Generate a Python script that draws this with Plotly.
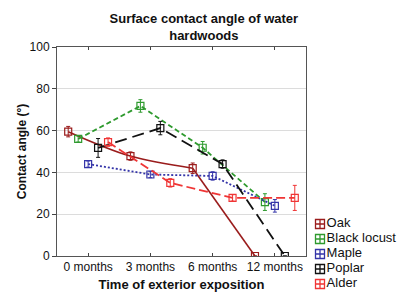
import plotly.graph_objects as go

categories = ["0 months", "3 months", "6 months", "12 months"]
species = ["Oak", "Black locust", "Maple", "Poplar", "Alder"]

oak = [59.5, 47.8, 42.0, 0.0]
black_locust = [56.0, 71.8, 51.8, 25.8]
maple = [44.0, 39.0, 38.3, 24.0]
poplar = [51.7, 61.2, 44.0, 0.0]
alder = [54.5, 35.0, 27.8, 27.8]

oak_err = [2.5, 2.0, 2.5, 0.0]
black_locust_err = [1.5, 3.0, 3.0, 4.0]
maple_err = [1.5, 1.5, 2.0, 3.0]
poplar_err = [4.5, 3.2, 2.0, 0.0]
alder_err = [2.0, 2.0, 1.5, 6.0]

values = [oak, black_locust, maple, poplar, alder]
errors = [oak_err, black_locust_err, maple_err, poplar_err, alder_err]

colors = ["#9a1c1c", "#2e9a2e", "#3434a8", "#111111", "#f03535"]
dashes = ["solid", "5px,3px", "2px,2px", "12px,6px", "9px,4px"]
offsets = [-0.32, -0.16, 0.0, 0.16, 0.32]

W, H = 399, 293
PL, PR, PT, PB = 57, 306, 47, 256  # plot area in pixels

fig = go.Figure()

for k, name in enumerate(species):
    xs = [i + offsets[k] for i in range(len(categories))]
    ys = values[k]
    es = errors[k]
    col = colors[k]
    if name == "Oak":
        fig.add_trace(go.Scatter(
            x=xs[:3], y=ys[:3], mode="lines",
            line=dict(color=col, width=1.6, shape="spline", smoothing=1.0),
            showlegend=False, hoverinfo="skip"))
        fig.add_trace(go.Scatter(
            x=xs[2:], y=ys[2:], mode="lines",
            line=dict(color=col, width=1.6),
            showlegend=False, hoverinfo="skip"))
    else:
        fig.add_trace(go.Scatter(
            x=xs, y=ys, mode="lines",
            line=dict(color=col, width=1.8, dash=dashes[k]),
            showlegend=False))
    fig.add_trace(go.Scatter(
        x=xs, y=ys, mode="markers",
        marker=dict(symbol="square-open", size=7, color=col, line=dict(width=1.2, color=col)),
        error_y=dict(type="data", array=es, visible=True, color=col, thickness=1, width=2),
        showlegend=False))

# custom legend drawn on its own small axes
leg_x0 = 0.77
leg_top_px = 211
item_px = 15
first_px = 224
icon_px = 320
fig.add_trace(go.Scatter(
    x=[0] * len(species), y=list(range(len(species))),
    mode="markers+text", text=species, textposition="middle right",
    textfont=dict(size=13, color="#111111"),
    marker=dict(symbol="square-cross-open", size=9, color=colors,
                line=dict(width=1.3, color=colors)),
    xaxis="x3", yaxis="y3", showlegend=False, hoverinfo="skip", cliponaxis=False))

fig.update_layout(
    width=W, height=H,
    margin=dict(l=0, r=0, t=0, b=0),
    paper_bgcolor="white", plot_bgcolor="white",
    font=dict(family="Liberation Sans, Arial, sans-serif", color="#111111", size=12),
    title=dict(text="<b>Surface contact angle of water<br>hardwoods</b>",
               x=0.511, xref="container", xanchor="center",
               y=0.92, yref="container", yanchor="top",
               font=dict(size=13, color="#111111")),
    showlegend=False,
    xaxis=dict(
        domain=[PL / W, PR / W], anchor="y",
        range=[-0.5, 3.5], tickmode="array",
        tickvals=list(range(len(categories))), ticktext=categories,
        ticks="inside", ticklen=3, tickcolor="#444",
        showline=True, linecolor="#555", linewidth=1, mirror="ticks",
        showgrid=False, zeroline=False, automargin=False,
        tickfont=dict(size=12),
        title=dict(text="<b>Time of exterior exposition</b>", font=dict(size=13), standoff=6),
    ),
    yaxis=dict(
        domain=[(H - PB) / H, (H - PT) / H], anchor="x",
        range=[0, 100], dtick=20, ticks="outside", ticklen=4, tickcolor="#444",
        showline=True, linecolor="#555", linewidth=1, mirror=True,
        showgrid=True, gridcolor="#dcdcdc", gridwidth=1, zeroline=False,
        automargin=False,
        tickfont=dict(size=12),
        title=dict(text="<b>Contact angle (°)</b>", font=dict(size=12), standoff=0),
    ),
    yaxis2=dict(
        range=[0, 100], dtick=20, overlaying="y", side="right", anchor="x",
        ticks="inside", ticklen=3, tickcolor="#444", showticklabels=False,
        showgrid=False, showline=False, zeroline=False, automargin=False,
    ),
    xaxis3=dict(
        domain=[leg_x0, 1.0], anchor="y3",
        range=[-(icon_px - leg_x0 * W), W - icon_px],
        visible=False, fixedrange=True,
    ),
    yaxis3=dict(
        domain=[0, (H - leg_top_px) / H], anchor="x3",
        range=[(H - first_px) / item_px, -(first_px - leg_top_px) / item_px],
        visible=False, fixedrange=True,
    ),
)

fig.write_html(
    "out.html",
    config={"displayModeBar": False},
    post_script="document.body.style.margin='0px';document.body.style.overflow='hidden';",
)
